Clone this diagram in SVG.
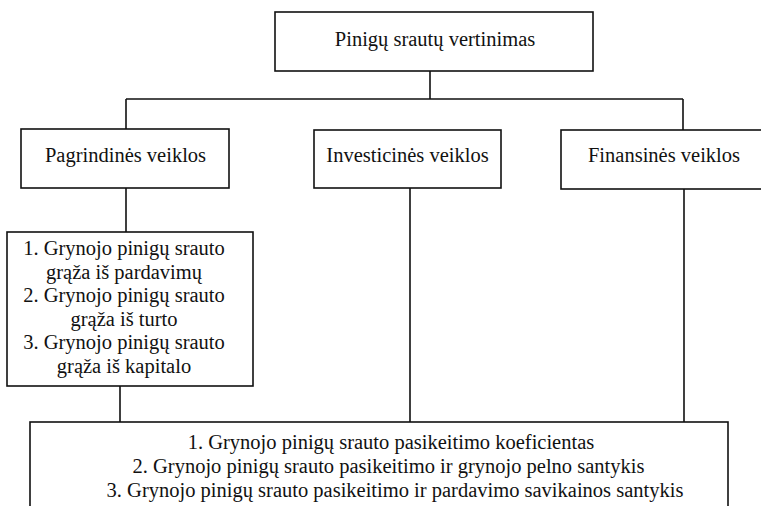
<svg xmlns="http://www.w3.org/2000/svg" width="761" height="506" viewBox="0 0 761 506">
<style>
.box{fill:#fff;stroke:#111;stroke-width:1.6}
.ln{fill:none;stroke:#111;stroke-width:1.6}
</style>
<rect width="761" height="506" fill="#fff"/>
<g id="connectors">
<path class="ln" d="M430,71V99M126,99H683M126,99V129M683,99V130M126,188V232M120,386V422M410,188V422M684,189V422"/>
</g>
<g font-family="Liberation Serif, DejaVu Serif, serif" font-size="20.5" fill="#111" text-anchor="middle">
<g id="root">
<rect class="box" x="275" y="12" width="318" height="59"/>
<text x="435" y="46">Pinigų srautų vertinimas</text>
</g>
<g id="pagrindines">
<rect class="box" x="21" y="129" width="208" height="59"/>
<text x="125.5" y="162">Pagrindinės veiklos</text>
</g>
<g id="investicines">
<rect class="box" x="314" y="130" width="187" height="58"/>
<text x="407.5" y="162">Investicinės veiklos</text>
</g>
<g id="finansines">
<rect class="box" x="561" y="130" width="210" height="59"/>
<text x="664" y="162">Finansinės veiklos</text>
</g>
<g id="pagrindines-rodikliai">
<rect class="box" x="7" y="232" width="246" height="154"/>
<text x="124" y="255">1. Grynojo pinigų srauto</text>
<text x="124" y="278.5">grąža iš pardavimų</text>
<text x="124" y="302">2. Grynojo pinigų srauto</text>
<text x="124" y="325.5">grąža iš turto</text>
<text x="124" y="349">3. Grynojo pinigų srauto</text>
<text x="124" y="372.5">grąža iš kapitalo</text>
</g>
<g id="bendri-rodikliai">
<rect class="box" x="30" y="422" width="698" height="100"/>
<text x="391" y="449">1. Grynojo pinigų srauto pasikeitimo koeficientas</text>
<text x="388.5" y="473">2. Grynojo pinigų srauto pasikeitimo ir grynojo pelno santykis</text>
<text x="395" y="497">3. Grynojo pinigų srauto pasikeitimo ir pardavimo savikainos santykis</text>
</g>
</g>
</svg>
